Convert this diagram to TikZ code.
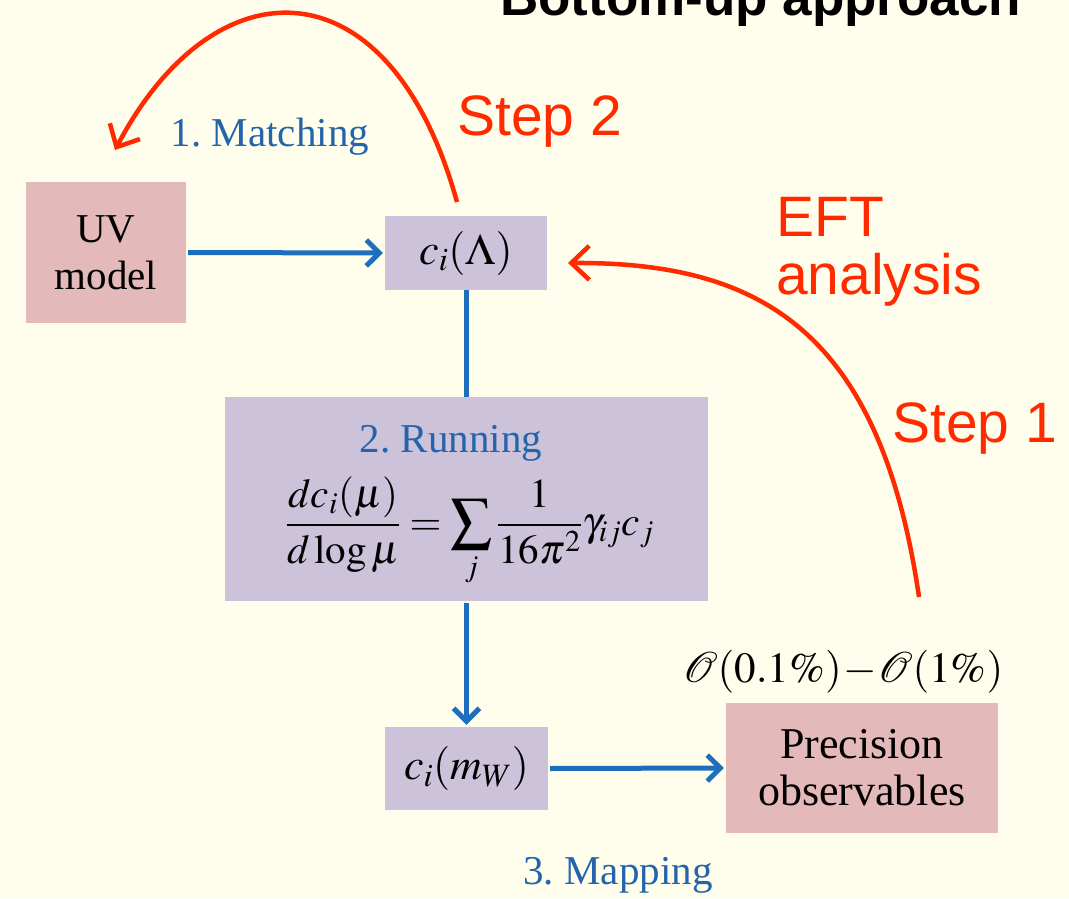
\documentclass[tikz,border=0pt]{standalone}
\usepackage{mathptmx}
\usepackage{fontspec}
\setmainfont{Liberation Serif}
\newfontfamily\redsans{Liberation Sans}
\usetikzlibrary{arrows.meta}
\definecolor{bgc}{HTML}{FFFDEB}
\definecolor{pinkc}{RGB}{228,185,185}
\definecolor{lavc}{RGB}{204,194,217}
\definecolor{bluec}{RGB}{30,110,190}
\definecolor{bluetext}{RGB}{35,100,170}
\definecolor{redc}{RGB}{255,42,0}
\begin{document}
\begin{tikzpicture}[x=1pt,y=-1pt,
  box/.style={draw=none, inner sep=0pt, align=center, text=black, font=\fontsize{41}{47}\selectfont},
  pinkbox/.style={box, fill=pinkc},
  lavbox/.style={box, fill=lavc, font=\fontsize{44}{48}\selectfont},
  blueline/.style={draw=bluec, line width=5pt},
  flow/.style={blueline, -{Straight Barb[length=13pt,width=26pt]}, shorten >=2pt, shorten <=2pt},
  redarrow/.style={draw=redc, line width=4.5pt, -{Straight Barb[length=18pt,width=34pt]}},
  bluelab/.style={inner sep=0pt, text=bluetext, font=\fontsize{41}{47}\selectfont},
  mathlab/.style={inner sep=0pt, text=black, font=\fontsize{41}{48}\selectfont},
  redlab/.style={inner sep=0pt, text=redc, font=\redsans\fontsize{57}{58}\selectfont},
  titlelab/.style={inner sep=0pt, text=black, font=\redsans\bfseries\fontsize{53}{60}\selectfont}
]
\useasboundingbox (0,0) rectangle (1069,898);
\fill[bgc] (0,0) rectangle (1069,898);
\begin{scope}
\clip (0,0) rectangle (1069,898);
\node[titlelab, anchor=base west] (title) at (500,15) {Bottom-up approach};
\end{scope}

% boxes
\node[pinkbox, minimum width=160pt, minimum height=141pt] (uv) at (106,252.5) {UV\\model};
\node[lavbox, minimum width=162pt, minimum height=74pt] (lam) at (466,253) {$c_i(\Lambda)$};
\node[lavbox, minimum width=483pt, minimum height=204pt] (run) at (466.5,499) {};
\node[lavbox, minimum width=163pt, minimum height=83pt] (mw) at (466.5,768.5) {$c_i(m_W)$};
\node[pinkbox, minimum width=272pt, minimum height=130pt, font=\fontsize{44}{47}\selectfont] (prec) at (862,768) {Precision\\observables};

% labels
\node[bluelab, anchor=base] (match) at (270,146) {1.\ Matching};
\node[bluelab, anchor=base] (runlab) at (451,452) {2.\ Running};
\node[mathlab, anchor=base] (eq) at (470,535) {$\displaystyle\frac{dc_i(\mu)}{d\log\mu}=\sum_j\frac{1}{16\pi^2}\gamma_{ij}c_j$};
\node[mathlab, anchor=base, font=\fontsize{43}{48}\selectfont] (prcs) at (843,682) {$\mathcal{O}(0.1\%)\!-\!\mathcal{O}(1\%)$};
\node[bluelab, anchor=base] (map) at (618,884) {3.\ Mapping};

\node[redlab, anchor=base west] (step2) at (457,135) {Step 2};
\node[redlab, anchor=base west] (eft) at (776,236) {\begin{tabular}[t]{@{}l@{}}EFT\\analysis\end{tabular}};
\node[redlab, anchor=base west] (step1) at (892,442) {Step 1};

% blue connectors
\draw[flow] (uv.east) -- (lam.west);
\draw[blueline] (lam.south) -- (lam.south |- run.north);
\draw[flow] (run.south) -- (mw.north);
\draw[flow] (mw.east) -- (prec.west);

% red arrows
\coordinate (s2a) at (457,202);
\coordinate (s2b) at (115,150);
\draw[redarrow] (s2a) .. controls (390,-40) and (215,-40) .. (s2b);
\coordinate (s1a) at (919,597);
\coordinate (s1b) at (568,263);
\draw[redarrow] (s1a) .. controls (880,330) and (760,262) .. (s1b);
\end{tikzpicture}
\end{document}
